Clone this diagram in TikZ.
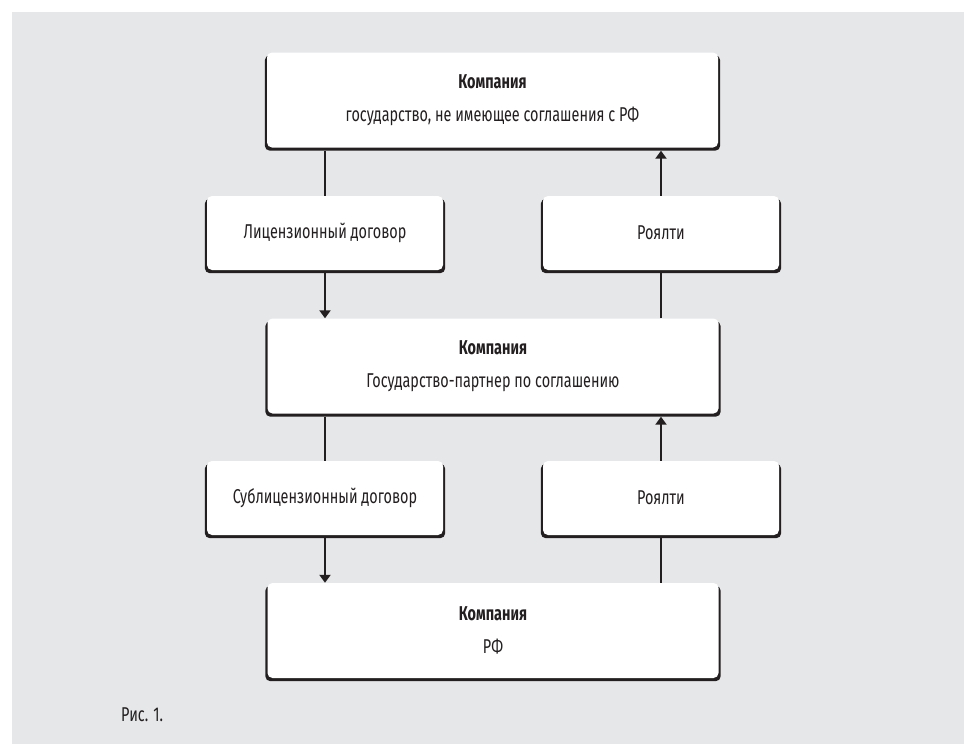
\documentclass[tikz,border=0pt]{standalone}
\usepackage{fontspec}
\setmainfont{Fira Sans}[FakeStretch=0.72]
\usetikzlibrary{arrows.meta,backgrounds}

\definecolor{ink}{HTML}{231F20}
\definecolor{panel}{HTML}{E6E7E9}

\tikzset{
  card/.style={rectangle, rounded corners=5pt, fill=white, inner sep=0pt,
    text=ink, align=center, font=\fontsize{20}{33}\selectfont},
  wide/.style={card, minimum width=451pt, minimum height=95pt},
  small/.style={card, minimum width=236pt, minimum height=74pt},
  link/.style={draw=ink, line width=2pt},
  flow/.style={link, -{Triangle[length=8pt,width=11pt]}},
  shade/.style={fill=ink, rounded corners=5pt}
}

\begin{document}
\begin{tikzpicture}[x=1pt,y=-1pt]
  \useasboundingbox (0,0) rectangle (964,744);

  % boxes (centres in px, y pointing down)
  \node[wide]  (top) at (492.5,100)   {\textbf{Компания}\\государство, не имеющее соглашения с РФ};
  \node[small] (lic) at (325,233)     {Лицензионный договор};
  \node[small] (roya) at (661,233)    {Роялти};
  \node[wide]  (mid) at (493,366)     {\textbf{Компания}\\Государство-партнер по соглашению};
  \node[small] (sub) at (325,498)     {Сублицензионный договор};
  \node[small] (royb) at (661,498)    {Роялти};
  \node[wide]  (bot) at (493,630.5)   {\textbf{Компания}\\РФ};

  \node[anchor=west, text=ink, font=\fontsize{20}{22}\selectfont, inner sep=0pt] (cap) at (121,715) {Рис. 1.};

  % panel and card shadows behind everything
  \begin{scope}[on background layer]
    \fill[panel] (12,12) rectangle (964,744);
    \foreach \n in {top,lic,roya,mid,sub,royb,bot}
      \fill[shade] ([xshift=-2pt,yshift=-3pt]\n.south west) rectangle ([xshift=2pt,yshift=-3pt]\n.north east);
  \end{scope}

  % left chain: contracts going down
  \draw[link] ([yshift=-3pt]top.south -| lic.north) -- (lic.north);
  \draw[flow] ([yshift=-3pt]lic.south) -- (mid.north -| lic.south);
  \draw[link] ([yshift=-3pt]mid.south -| sub.north) -- (sub.north);
  \draw[flow] ([yshift=-3pt]sub.south) -- (bot.north -| sub.south);

  % right chain: royalties going up
  \draw[link] (bot.north -| royb.south) -- ([yshift=-3pt]royb.south);
  \draw[flow] (royb.north) -- ([yshift=-3pt]mid.south -| royb.north);
  \draw[link] (mid.north -| roya.south) -- ([yshift=-3pt]roya.south);
  \draw[flow] (roya.north) -- ([yshift=-3pt]top.south -| roya.north);
\end{tikzpicture}
\end{document}
